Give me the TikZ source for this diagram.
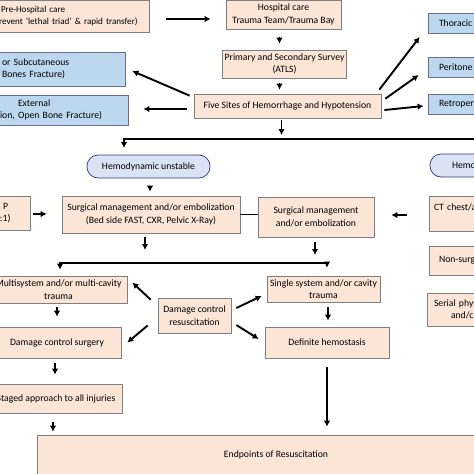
\documentclass[tikz,border=0pt]{standalone}
\usepackage{fontspec}
\setmainfont{Carlito}
\usepackage{tikz}
\usetikzlibrary{calc,arrows.meta}
\definecolor{peach}{HTML}{FBE5D6}
\definecolor{skyb}{HTML}{BDD7EE}
\definecolor{pale}{HTML}{DAE3F3}
\definecolor{edge}{HTML}{7F7F7F}

\begin{document}
\begin{tikzpicture}[x=1pt,y=-1pt,
  box/.style={draw=edge,fill=peach,line width=0.7pt,align=center,inner sep=2pt,
    font=\fontsize{9.7}{12.5}\selectfont,text=black},
  bluebox/.style={box,fill=skyb,draw=edge!85!blue},
  oval/.style={box,fill=pale,draw=black!50!blue!60!gray,rounded corners=11pt},
  arr/.style={-{Latex[length=6pt,width=6.5pt]},line width=1.9pt},
  bus/.style={line width=1.7pt}]
\useasboundingbox(0,0)rectangle(474,474);
\clip(0,0)rectangle(474,474);
% top row
\node[box,minimum width=153,minimum height=32,text width=147,align=left,font=\fontsize{9.1}{12}\selectfont](pre)at(72.5,16){\hspace*{2pt}Pre-Hospital care\\revent `lethal triad' \& rapid transfer)};
\node[box,minimum width=115,minimum height=29](hosp)at(283.5,14.5){Hospital care\\Trauma Team/Trauma Bay};
\node[box,minimum width=121,minimum height=28](survey)at(284.5,64){Primary and Secondary Survey\\(ATLS)};
\node[box,minimum width=187,minimum height=24](five)at(287.5,106){Five Sites of Hemorrhage and Hypotension};
\node[bluebox,minimum width=127,minimum height=34,text width=119,align=left](blue1)at(61.5,69){or Subcutaneous\\Bones Fracture)};
\node[bluebox,minimum width=130,minimum height=30,text width=126,align=left](blue2)at(63,110){\hspace*{18pt}External\\ion, Open Bone Fracture)};
\node[bluebox,minimum width=92,minimum height=20,text width=70,align=left](thor)at(474,23){Thoracic};
\node[bluebox,minimum width=92,minimum height=20,text width=70,align=left](perit)at(474,67){Peritone};
\node[bluebox,minimum width=92,minimum height=20,text width=70,align=left](retro)at(474,104){Retroper};
% unstable / stable
\node[oval,minimum width=123,minimum height=23](unstable)at(148.5,166.5){Hemodynamic unstable};
\node[oval,minimum width=100,minimum height=23,text width=56,align=left](stable)at(480,165.5){Hemo};
\node[box,minimum width=34,minimum height=34,text width=26,align=left](mtp)at(13,213){\hspace*{3pt}P\\:1)};
\node[box,minimum width=178,minimum height=37](surgL)at(151,214.5){Surgical management and/or embolization\\(Bed side FAST, CXR, Pelvic X-Ray)};
\node[box,minimum width=116,minimum height=40](surgR)at(316,217){Surgical management\\and/or embolization};
\node[box,minimum width=102,minimum height=35,text width=92,align=left](ct)at(480,213.5){CT chest/a\\\mbox{}};
\node[box,minimum width=102,minimum height=29,text width=82,align=left](nonsurg)at(480,260.5){Non-surg};
\node[box,minimum width=106,minimum height=33,text width=92,align=left](serial)at(480,309.5){Serial phys\\\hspace*{17pt}and/c};
% lower part
\node[box,minimum width=137,minimum height=27](multi)at(58.5,289.5){Multisystem and/or multi-cavity\\trauma};
\node[box,minimum width=113,minimum height=26](single)at(323.5,289){Single system and/or cavity\\trauma};
\node[box,minimum width=73,minimum height=35](dcr)at(194.5,315.5){Damage control\\resuscitation};
\node[box,minimum width=128,minimum height=31](dcs)at(57,342.5){Damage control surgery};
\node[box,minimum width=124,minimum height=31](definite)at(327,342.5){Definite hemostasis};
\node[box,minimum width=132,minimum height=29](staged)at(56,398.5){Staged approach to all injuries};
\node[box,minimum width=478,minimum height=40](endp)at(276,455){Endpoints of Resuscitation};
\coordinate(b1)at(124,139);
\coordinate(b1e)at(480,139);
\coordinate(b2l)at(60,263);
\coordinate(b2r)at(327,263);
% arrows, top
\draw[arr,shorten <=17pt,shorten >=15pt]([shift={(0,3)}]pre.east)--([shift={(0,3)}]pre.east-|hosp.west);
\draw[arr,shorten <=8pt,shorten >=6pt]([shift={(-4,0)}]hosp.south)--([shift={(-4,0)}]hosp.south|-survey.north);
\draw[arr,shorten <=5pt,shorten >=4pt]([shift={(-5,0)}]survey.south)--([shift={(-5,0)}]survey.south|-five.north);
\draw[arr,shorten <=2pt,shorten >=4pt]([shift={(-6,0)}]five.south)--([shift={(-6,0)}]five.south|-b1);
\draw[arr,line width=1.7pt](b1e)--(b1)--([shift={(0,9)}]b1);
\draw[arr]([shift={(-4,2)}]five.north west)--([shift={(7,2)}]blue1.east);
\draw[arr]([shift={(-7,3)}]five.west)--([shift={(15,-1)}]blue2.east);
\draw[arr]([shift={(-2,-4)}]five.north east)--([shift={(-8,14)}]thor.west);
\draw[arr]([shift={(4,5)}]five.north east)--([shift={(-9,8)}]perit.west);
\draw[arr]([shift={(3,4)}]five.east)--([shift={(-4,2)}]retro.west);
% arrows, middle
\draw[arr,shorten <=8pt,shorten >=4pt]([shift={(1.5,0)}]unstable.south)--([shift={(1.5,0)}]unstable.south|-surgL.north);
\draw[arr,shorten <=3pt,shorten >=15pt]([shift={(0,1)}]mtp.east)--([shift={(0,1)}]mtp.east-|surgL.west);
\draw[bus](surgL.east)--(surgL.east-|surgR.west);
\draw[arr,shorten <=22pt,shorten >=17pt]([shift={(0,1.5)}]ct.west)--([shift={(0,1.5)}]ct.west-|surgR.east);
\draw[arr,shorten <=4pt,shorten >=13pt]([shift={(-6,0)}]surgL.south)--([shift={(-6,0)}]surgL.south|-b2l);
\draw[arr,shorten <=5pt,shorten >=8pt]([shift={(-1,0)}]surgR.south)--([shift={(-1,0)}]surgR.south|-b2r);
\draw[arr,line width=1.7pt,shorten >=6pt](b2r)--(b2l)--(b2l|-multi.north);
\draw[arr,line width=1.7pt,shorten >=8pt](b2l)--(b2r)--(b2r|-single.north);
% arrows, lower
\draw[arr,shorten <=4pt,shorten >=10pt]([shift={(-1.5,0)}]multi.south)--([shift={(-1.5,0)}]multi.south|-dcs.north);
\draw[arr,shorten <=5pt,shorten >=9pt]([shift={(-2,0)}]dcs.south)--([shift={(-2,0)}]dcs.south|-staged.north);
\draw[arr,shorten <=9pt,shorten >=3pt]([shift={(-3,0)}]staged.south)--([shift={(-3,0)}]staged.south|-endp.north);
\draw[arr]([shift={(-7,2)}]dcr.north west)--([shift={(5,-7)}]multi.east);
\draw[arr]([shift={(-10,10)}]dcr.west)--([shift={(6,0)}]dcs.east);
\draw[arr]([shift={(5,-7.5)}]dcr.east)--([shift={(-5,7)}]single.west);
\draw[arr]([shift={(5,9.5)}]dcr.east)--([shift={(-6,-3.5)}]definite.west);
\draw[arr,shorten <=5pt,shorten >=6pt]([shift={(4.5,0)}]single.south)--([shift={(4.5,0)}]single.south|-definite.north);
\draw[arr,shorten <=9pt,shorten >=8pt](definite.south)--(definite.south|-endp.north);
\end{tikzpicture}
\end{document}
